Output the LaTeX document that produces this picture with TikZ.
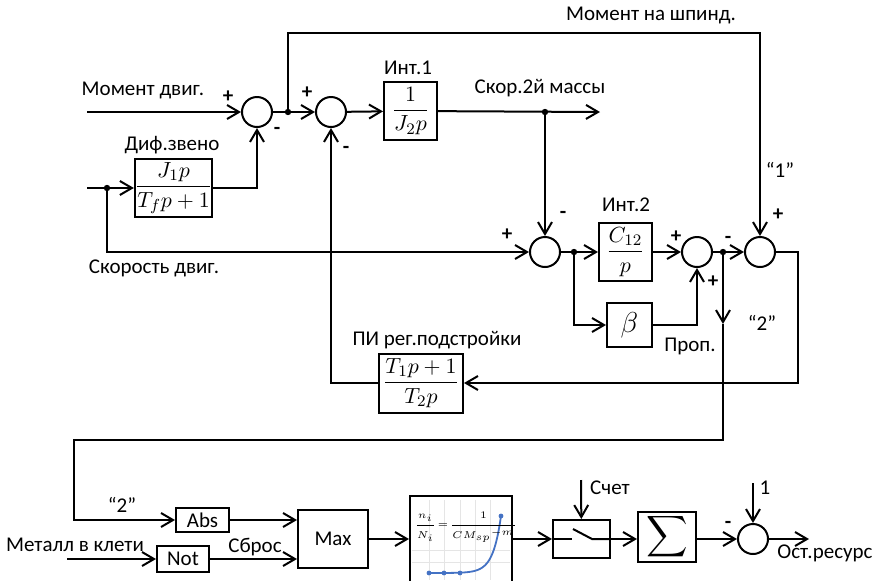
\documentclass[tikz,border=0pt]{standalone}
\usepackage{amsmath}
\usepackage{fontspec}
\setmainfont{Carlito}
\usepackage{xcolor}
\usetikzlibrary{arrows.meta, positioning, calc}
\definecolor{curveblue}{RGB}{68,114,196}

\begin{document}
\begin{tikzpicture}[
    x=0.5pt, y=-0.5pt,
    every node/.style={font=\fontsize{10.5}{12}\selectfont, inner sep=0pt},
    line/.style={line width=1pt},
    arr/.style={line width=1pt, -{Straight Barb[length=6pt, width=7pt]}},
    sumnode/.style={circle, draw, line width=1pt, minimum size=15pt},
    block/.style={rectangle, draw, line width=1pt, align=center, font=\fontsize{11}{13}\selectfont},
    sign/.style={font=\fontsize{10.5}{12}\selectfont\bfseries},
    dot/.style={line width=0pt}
]
\useasboundingbox (0,0) rectangle (880,580);

% summing points
\node[sumnode] (sumA) at (257,112) {};
\node[sumnode] (sumB) at (331,112) {};
\node[sumnode] (sumC) at (545,252) {};
\node[sumnode] (sumD) at (697,252) {};
\node[sumnode] (sumE) at (760,252) {};
\node[sumnode] (sumF) at (753,539) {};

% blocks
\node[block, minimum width=26.5pt, minimum height=29pt] (intA) at (410.5,111) {$\dfrac{1}{J_2p}$};
\node[block, minimum width=38.5pt, minimum height=29pt] (diff) at (173.5,188) {$\dfrac{J_1p}{T_fp+1}$};
\node[block, minimum width=26.5pt, minimum height=29pt] (intB) at (625.5,252) {$\dfrac{C_{12}}{p}$};
\node[block, minimum width=22.5pt, minimum height=22pt, font=\fontsize{14}{16}\selectfont] (beta) at (629.5,325) {$\beta$};
\node[block, minimum width=42pt, minimum height=29.5pt] (pireg) at (421,383) {$\dfrac{T_1p+1}{T_2p}$};
\node[block, minimum width=26.5pt, minimum height=12pt, font=\fontsize{10.5}{12}\selectfont] (absb) at (202.5,520) {Abs};
\node[block, minimum width=26pt, minimum height=13pt, font=\fontsize{10.5}{12}\selectfont] (notb) at (183,559) {Not};
\node[block, minimum width=35pt, minimum height=29pt, font=\fontsize{10.5}{12}\selectfont] (maxb) at (333,539) {Max};
\node[block, minimum width=51pt, minimum height=43pt] (graph) at (461,539) {};
\node[block, minimum width=28.5pt, minimum height=19pt] (swb) at (581.5,539) {};
\node[block, minimum width=29pt, minimum height=25pt, font=\fontsize{13.5}{15}\selectfont] (sigmab) at (667,537) {$\displaystyle\sum$};

% graph inside the resource block
\begin{scope}
  \clip (graph.south west) rectangle (graph.north east);
  \foreach \gx in {429,444,460,475,490}
    \draw[gray!20, line width=0.4pt] (\gx,500) -- (\gx,580);
  \foreach \gy in {550,562}
    \draw[gray!20, line width=0.4pt] (412,\gy) -- (510,\gy);
  \draw[curveblue, line width=0.9pt] plot[domain=429:501, samples=60] (\x, {573-57*exp((\x-501)/8)});
  \foreach \gx in {429,444,460}
    \fill[curveblue] (\gx,573) circle (1.2pt);
  \fill[curveblue] (501,516) circle (1.2pt);
\end{scope}
\node[font=\fontsize{4.3}{5}\selectfont, anchor=west] (fml) at (414,527) {$\displaystyle\frac{n_i}{N_i}\!=\!\frac{1}{CM_{sp}{}^{-m}}$};

% switch symbol
\draw[line] (553,539) -- (572,539);
\draw[line] (573,529) -- (592,539) -- (610,539);

% coordinates
\coordinate (inA) at (87,112);
\coordinate (inB) at (87,188);
\coordinate (inC) at (67,559);
\coordinate (jA) at (288,112);
\coordinate (jB) at (545,112);
\coordinate (jC) at (107,188);
\coordinate (jD) at (574,252);
\coordinate (jE) at (723,252);
\coordinate (topA) at (288,33);
\coordinate (outA) at (600,112);
\coordinate (rA) at (798,252);
\coordinate (rB) at (798,383);
\coordinate (midE) at (723,324);
\coordinate (dA) at (723,440);
\coordinate (dB) at (74,440);
\coordinate (cntA) at (581,480);
\coordinate (oneA) at (753,483);
\coordinate (outF) at (809,539);

% upper loop
\draw[arr] (inA) -- (sumA);
\draw[arr] (sumA) -- (sumB);
\draw[arr] (jA) -- (topA) -| (sumE);
\draw[arr] (sumB) -- (intA);
\draw[arr] (intA) -- (outA);
\draw[arr] (jB) -- (sumC);
\draw[arr] (inB) -- (diff);
\draw[arr] (diff) -| (sumA);
\draw[arr] (jC) |- (sumC);
\draw[arr] (sumC) -- (intB);
\draw[arr] (intB) -- (sumD);
\draw[arr] (sumD) -- (sumE);
\draw[arr] (jD) |- (beta);
\draw[arr] (beta) -| (sumD);
\draw[arr] (sumE) -- (rA) -- (rB) -- (pireg);
\draw[arr] (pireg) -| (sumB);
\draw[arr] (jE) -- (midE);
\draw[arr] (midE) -- (dA) -- (dB) |- (absb);

% lower chain
\draw[arr] (absb) -- (absb -| maxb.west);
\draw[arr] (inC) -- (notb);
\draw[arr] (notb) -- (notb -| maxb.west);
\draw[arr] (maxb) -- (graph);
\draw[arr] (graph) -- (swb);
\draw[arr] (cntA) -- (swb);
\draw[arr] (swb) -- (sigmab.west |- swb);
\draw[arr] (sigmab.east |- swb) -- (sumF);
\draw[arr] (oneA) -- (sumF);
\draw[arr] (sumF) -- (outF);

% junction dots
\foreach \j in {jA,jB,jC,jD,jE}
  \fill (\j) circle (1.6pt);

% labels
\node (lMdv) at (143,90) {Момент двиг.};
\node (lMsh) at (651,15) {Момент на шпинд.};
\node (lIntA) at (408,68) {Инт.1};
\node (lSkor) at (540,88) {Скор.2й массы};
\node (lDiff) at (172,145) {Диф.звено};
\node (lSdv) at (154,268) {Скорость двиг.};
\node (lOne) at (780,170) {“1”};
\node (lIntB) at (626,205) {Инт.2};
\node (lPi) at (437,340) {ПИ рег.подстройки};
\node (lProp) at (690,346) {Проп.};
\node (lTwoA) at (762,323) {“2”};
\node (lTwoB) at (122,505) {“2”};
\node (lMet) at (75,545) {Металл в клети};
\node (lSbr) at (255,547) {Сброс};
\node (lCnt) at (610,488) {Счет};
\node (lUn) at (765,488) {1};
\node (lOst) at (825,553) {Ост.ресурс};

% signs
\node[sign] (sA1) at (228,97) {+};
\node[sign] (sA2) at (277,131) {-};
\node[sign] (sB1) at (307,93) {+};
\node[sign] (sB2) at (346,150) {-};
\node[sign] (sC1) at (507,235) {+};
\node[sign] (sC2) at (563,215) {-};
\node[sign] (sD1) at (676,237) {+};
\node[sign] (sD2) at (713,282) {+};
\node[sign] (sE1) at (728,240) {-};
\node[sign] (sE2) at (778,215) {+};
\node[sign] (sF1) at (728,525) {-};
\end{tikzpicture}
\end{document}
